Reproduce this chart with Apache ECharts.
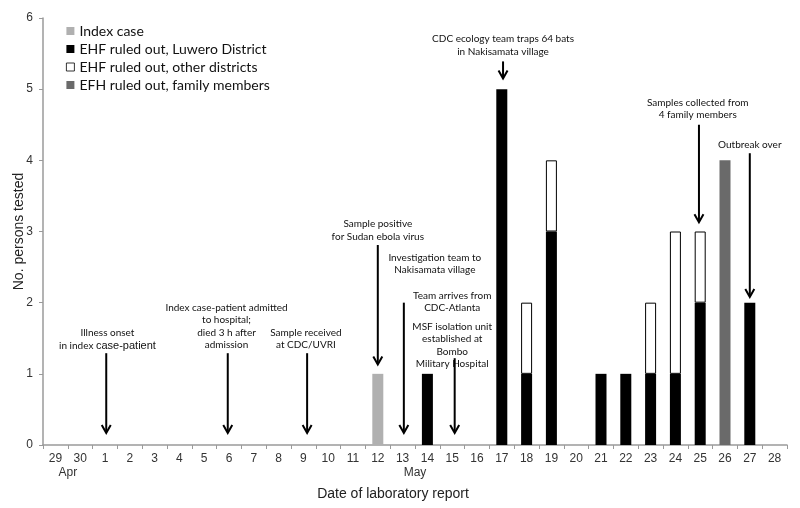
<!DOCTYPE html>
<html><head><meta charset="utf-8">
<script src="https://cdn.jsdelivr.net/npm/echarts@6/dist/echarts.min.js"></script>
<style>html,body{margin:0;padding:0;background:#fff}#c{width:800px;height:508px}</style>
</head><body><div id="c"></div>
<script>
// Categories: 29 Apr .. 28 May
const categories = ['29','30','1','2','3','4','5','6','7','8','9','10','11','12','13','14','15','16','17','18','19','20','21','22','23','24','25','26','27','28'];
const months = [{name:'Apr', at:0.5}, {name:'May', at:14.5}];
const yTicks = [0,1,2,3,4,5,6];
const seriesNames = ['Index case','EHF ruled out, Luwero District','EHF ruled out, other districts','EFH ruled out, family members'];
//                 29  30  1   2   3   4   5   6   7   8   9  10  11  12  13  14  15  16  17  18  19  20  21  22  23  24  25  26  27  28
const indexCase = [null,null,null,null,null,null,null,null,null,null,null,null,null,1,null,null,null,null,null,null,null,null,null,null,null,null,null,null,null,null];
const luwero    = [null,null,null,null,null,null,null,null,null,null,null,null,null,null,null,1,null,null,5,1,3,null,1,1,1,1,2,null,2,null];
const otherDist = [null,null,null,null,null,null,null,null,null,null,null,null,null,null,null,null,null,null,null,1,1,null,null,null,1,2,1,null,null,null];
const family    = [null,null,null,null,null,null,null,null,null,null,null,null,null,null,null,null,null,null,null,null,null,null,null,null,null,null,null,4,null,null];

// Annotations (x in category-index units, y in axis value units)
const notes = [
  {text:'Illness onset\nin index {b|case-patient}', x:2.1, y:1.31, ax:2.05, from:1.29, to:0.17},
  {text:'Index case-patient admitted\nto hospital;\ndied 3 h after\nadmission', x:6.9, y:1.32, ax:6.95, from:1.29, to:0.17},
  {text:'Sample received\nat CDC/UVRI', x:10.1, y:1.32, ax:10.15, from:1.29, to:0.17},
  {text:'Sample positive\nfor Sudan ebola virus', x:13.0, y:2.84, ax:13.0, from:2.81, to:1.13},
  {text:'Investigation team to\nNakisamata village', x:15.3, y:2.37, ax:14.05, from:2.0, to:0.17},
  {text:'Team arrives from\nCDC-Atlanta', x:16.0, y:1.84, ax:null},
  {text:'MSF isolation unit\nestablished at\nBombo\nMilitary Hospital', x:16.0, y:1.05, ax:16.1, from:1.22, to:0.17},
  {text:'CDC ecology team traps 64 bats\nin Nakisamata village', x:18.05, y:5.44, ax:18.05, from:5.39, to:5.15},
  {text:'Samples collected from\n4 family members', x:25.9, y:4.55, ax:25.95, from:4.5, to:3.13},
  {text:'Outbreak over', x:28.0, y:4.13, ax:28.0, from:4.1, to:2.08}
];

const chart = echarts.init(document.getElementById('c'), null, {renderer:'canvas'});
const axisCol = '#9a9a9a';
const barW = 11;
chart.setOption({
  animation:false,
  backgroundColor:'#fff',
  grid:{left:43, right:13, top:18, bottom:63, containLabel:false, outerBoundsMode:'none'},
  legend:{
    orient:'vertical', left:61, top:19, itemWidth:8, itemHeight:8, itemGap:4,
    icon:'rect',
    itemStyle:{borderWidth:0.8, borderColor:'inherit'},
    textStyle:{fontFamily:'Lato', fontSize:14, color:'#111'},
    data:seriesNames
  },
  xAxis:{
    type:'category', data:categories, boundaryGap:true,
    name:'Date of laboratory report', nameLocation:'middle', nameGap:42, nameMoveOverlap:false,
    nameTextStyle:{fontFamily:'Liberation Sans', fontSize:14, color:'#222', padding:[0,44,0,0]},
    axisLine:{lineStyle:{color:axisCol, width:1.5}},
    axisTick:{show:true, alignWithLabel:false, length:4, lineStyle:{color:axisCol}},
    axisLabel:{fontFamily:'Liberation Sans', fontSize:12, color:'#333', margin:8, interval:0}
  },
  yAxis:{
    type:'value', min:0, max:6, interval:1,
    name:'No. persons tested', nameLocation:'middle', nameGap:17, nameMoveOverlap:false,
    nameTextStyle:{fontFamily:'Liberation Sans', fontSize:14, color:'#222'},
    axisLine:{show:true, lineStyle:{color:axisCol, width:1.5}},
    axisTick:{show:true, length:4, lineStyle:{color:axisCol}},
    splitLine:{show:false},
    axisLabel:{fontFamily:'Liberation Sans', fontSize:12, color:'#333', margin:10,
      formatter:v=>yTicks.includes(v)?String(v):''}
  },
  series:[
    {name:seriesNames[0], type:'bar', stack:'a', data:indexCase, barWidth:barW, itemStyle:{color:'#b0b0b0'}},
    {name:seriesNames[1], type:'bar', stack:'a', data:luwero, barWidth:barW, itemStyle:{color:'#000'}},
    {name:seriesNames[2], type:'bar', stack:'a', data:otherDist, barWidth:barW, itemStyle:{color:'#fff', borderColor:'#000', borderWidth:1}},
    {name:seriesNames[3], type:'bar', stack:'a', data:family, barWidth:barW, itemStyle:{color:'#6a6a6a'}}
  ]
});

function px(idx, v){
  const i0 = Math.floor(idx), f = idx - i0;
  const a = chart.convertToPixel({xAxisIndex:0, yAxisIndex:0}, [i0, v]);
  const b = chart.convertToPixel({xAxisIndex:0, yAxisIndex:0}, [i0+1, v]);
  return [a[0] + f*(b[0]-a[0]), a[1]];
}
const els = [];
const noteFont = '10px Lato';
notes.forEach(n=>{
  const p = px(n.x, n.y);
  els.push({type:'text', x:p[0], y:p[1], silent:true, style:{
    text:n.text, font:noteFont, fill:'#111', lineHeight:12.5,
    align:'center', verticalAlign:'bottom', textAlign:'center', textVerticalAlign:'bottom',
    rich:{b:{font:'11px Liberation Sans', fill:'#111'}}
  }});
  if (n.ax != null){
    const s = px(n.ax, n.from), e = px(n.ax, n.to);
    els.push({type:'line', silent:true, shape:{x1:s[0], y1:s[1], x2:e[0], y2:e[1]-1}, style:{stroke:'#000', lineWidth:2}});
    els.push({type:'polyline', silent:true, shape:{points:[[e[0]-4.5, e[1]-8],[e[0], e[1]],[e[0]+4.5, e[1]-8]]}, style:{stroke:'#000', lineWidth:2, fill:null}});
  }
});
months.forEach(m=>{
  const p = px(m.at, 0);
  els.push({type:'text', x:p[0], y:p[1]+22, silent:true, style:{
    text:m.name, font:'12px Liberation Sans', fill:'#333', align:'center', verticalAlign:'top', textAlign:'center', textVerticalAlign:'top'}});
});
chart.setOption({graphic:els});
</script>
</body></html>
